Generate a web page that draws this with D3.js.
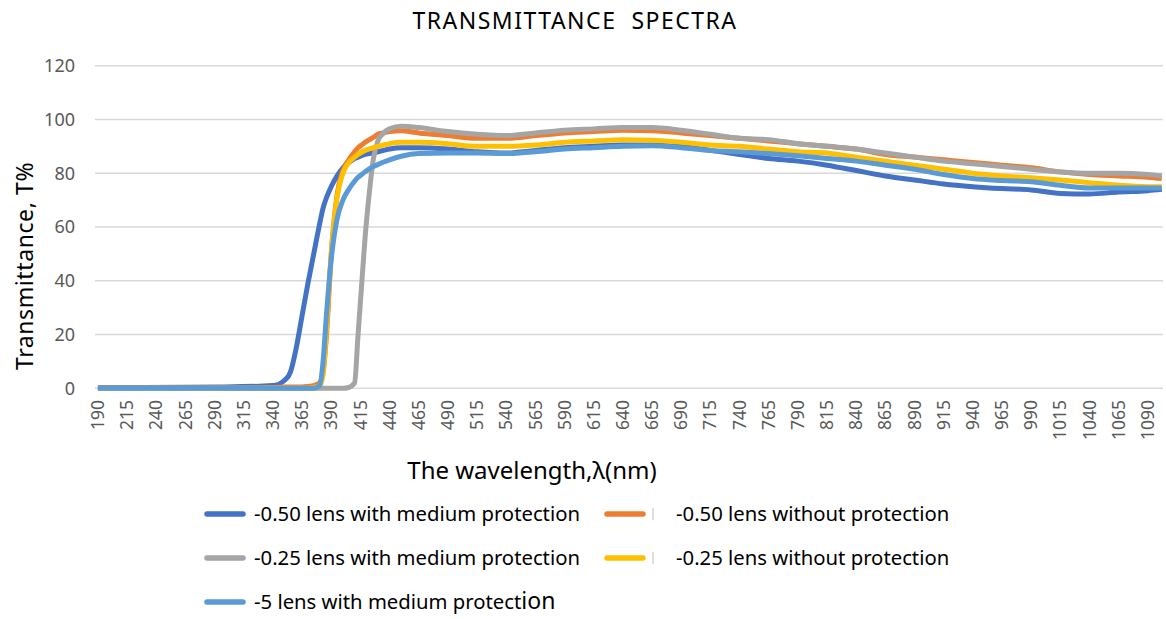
<!DOCTYPE html>
<html>
<head>
<meta charset="utf-8">
<script src="https://cdn.jsdelivr.net/npm/d3@7"></script>
<style>
  body { margin: 0; background: #fff; }
  text { font-family: "Noto Sans", "Open Sans", sans-serif; }
</style>
</head>
<body>
<div id="chart"></div>
<script>
// wavelengths (nm), shared by all series
var wavelengths = [190, 300, 340, 350, 355, 360, 365, 370, 375, 380,
                   383, 386, 390, 395, 400, 405, 410, 413, 416, 419,
                   422, 426, 430, 435, 440, 450, 465, 490, 515, 540,
                   565, 590, 615, 640, 665, 690, 715, 740, 765, 790,
                   815, 840, 865, 890, 915, 940, 965, 990, 1015, 1040,
                   1065, 1090, 1102];

var blueMed050 = [0.3, 0.5, 1, 3, 6, 15, 27, 39, 50, 61,
                  67, 71, 75, 79, 82, 84, 85.5, 86, 86.5, 87,
                  87.3, 87.6, 88, 88.5, 89, 89.5, 89.5, 89, 88, 87.5,
                  88.5, 89.5, 90, 90.5, 90.5, 90, 88.5, 87, 85.5, 84.5,
                  83, 81, 79, 77.5, 76, 75, 74.3, 73.8, 72.5, 72.3,
                  73, 73.5, 74];

var orangeNone050 = [0, 0, 0.3, 0.5, 0.5, 0.5, 0.5, 0.7, 1, 2,
                     6, 20, 50, 72, 81, 85, 88, 89.5, 90.5, 91.5,
                     92.3, 93.3, 94.5, 95, 95.5, 95.8, 95, 94, 93, 93,
                     94, 95, 95.5, 96, 95.8, 95, 94, 93, 92, 91,
                     90, 89, 87, 86, 85, 84, 83, 82, 80.5, 79.5,
                     79, 78.5, 78];

var grayMed025 = [0, 0, 0, 0, 0, 0, 0, 0, 0, 0,
                  0, 0, 0, 0, 0, 0.3, 2, 20, 38, 56,
                  70, 85, 92, 95, 96.5, 97.5, 97, 95.5, 94.5, 94,
                  95, 96, 96.5, 97, 97, 96, 94.5, 93, 92.5, 91,
                  90, 89, 87.5, 86, 84.5, 83.5, 82.5, 81.5, 80.5, 80,
                  80, 79.5, 79];

var yellowNone025 = [0, 0, 0, 0, 0, 0, 0, 0, 0.3, 1,
                     5, 23, 50, 71, 80, 84, 86, 87, 87.8, 88.5,
                     89, 89.5, 90, 90.5, 91, 91.5, 91.5, 91, 90, 90,
                     90.5, 91.5, 92, 92.5, 92.3, 91.5, 90.5, 90, 89, 88,
                     87.5, 86, 84.5, 83, 81.5, 80, 79, 78.3, 77.5, 76.5,
                     75.5, 75, 75];

var lightBlueMed5 = [0, 0, 0, 0, 0, 0, 0, 0, 0, 1,
                     10, 28, 48, 63, 70, 74, 77, 78.5, 79.5, 80.5,
                     81.5, 82.5, 83.2, 84.2, 85, 86.3, 87.3, 87.5, 87.5, 87.3,
                     88, 89, 89.5, 90, 90.2, 89.5, 88.5, 88, 87.3, 86.5,
                     85.5, 84.5, 83, 81.5, 79.5, 78, 77.3, 76.8, 75.5, 74.5,
                     74.5, 74.5, 74.5];

var seriesNames = ["-0.50 lens with medium protection", "-0.50 lens without protection",
                   "-0.25 lens with medium protection", "-0.25 lens without protection",
                   "-5 lens with medium protection"];
var seriesValues = [blueMed050, orangeNone050, grayMed025, yellowNone025, lightBlueMed5];
var colors = ["#4472C4", "#ED7D31", "#A5A5A5", "#FFC000", "#5B9BD5"];

var xTicks = d3.range(190, 1091, 25);
var yTicks = [0, 20, 40, 60, 80, 100, 120];

var width = 1166, height = 619;
var margin = {left: 95, right: 3, top: 66, bottom: 231};

var svg = d3.select("#chart").append("svg")
  .attr("width", width)
  .attr("height", height);

var x = d3.scaleLinear().domain([187.5, 1103]).range([margin.left, width - margin.right]);
var y = d3.scaleLinear().domain([0, 120]).range([height - margin.bottom + 0.3, margin.top - 0.3]);

// gridlines
svg.append("g")
  .selectAll("line")
  .data(yTicks)
  .join("line")
    .attr("x1", margin.left)
    .attr("x2", width - margin.right)
    .attr("y1", function(d) { return y(d); })
    .attr("y2", function(d) { return y(d); })
    .attr("stroke", "#d9d9d9")
    .attr("stroke-width", 1.5);

// y tick labels
svg.append("g")
  .selectAll("text")
  .data(yTicks)
  .join("text")
    .attr("x", 75)
    .attr("y", function(d) { return y(d); })
    .attr("dy", "0.35em")
    .attr("text-anchor", "end")
    .attr("fill", "#595959")
    .style("font-size", "18px")
    .text(function(d) { return d; });

// x tick labels, rotated
svg.append("g")
  .selectAll("text")
  .data(xTicks)
  .join("text")
    .attr("transform", function(d) { return "translate(" + x(d) + ",400) rotate(-90)"; })
    .attr("dy", "0.35em")
    .attr("text-anchor", "end")
    .attr("fill", "#595959")
    .style("font-size", "17.5px")
    .text(function(d) { return d; });

var line = d3.line()
  .x(function(d) { return x(d[0]); })
  .y(function(d) { return y(d[1]); })
  .curve(d3.curveMonotoneX);

seriesValues.forEach(function(vals, i) {
  svg.append("path")
    .datum(wavelengths.map(function(w, j) { return [w, vals[j]]; }))
    .attr("fill", "none")
    .attr("stroke", colors[i])
    .attr("stroke-width", 5)
    .attr("stroke-linejoin", "round")
    .attr("d", line);
});

// titles
svg.append("text")
  .attr("x", 575)
  .attr("y", 29)
  .attr("text-anchor", "middle")
  .attr("fill", "#000")
  .style("font-size", "23px")
  .style("letter-spacing", "1.5px")
  .style("white-space", "pre")
  .text("TRANSMITTANCE  SPECTRA");

svg.append("text")
  .attr("transform", "translate(33,266) rotate(-90)")
  .attr("text-anchor", "middle")
  .attr("fill", "#000")
  .style("font-size", "23px")
  .style("letter-spacing", "0.6px")
  .text("Transmittance, T%");

svg.append("text")
  .attr("x", 532)
  .attr("y", 479)
  .attr("text-anchor", "middle")
  .attr("fill", "#000")
  .style("font-size", "24px")
  .text("The wavelength,\u03bb(nm)");

// legend, two columns filled row by row
var legendPos = [[207, 514], [607, 514], [207, 558], [607, 558], [207, 602]];
var legend = svg.append("g");
seriesNames.forEach(function(name, i) {
  var p = legendPos[i];
  legend.append("line")
    .attr("x1", p[0]).attr("x2", p[0] + 36)
    .attr("y1", p[1]).attr("y2", p[1])
    .attr("stroke", colors[i])
    .attr("stroke-width", 5.5)
    .attr("stroke-linecap", "round");
  var tx = p[0] + 47;
  if (i % 2 == 1) {
    legend.append("line")
      .attr("x1", p[0] + 46).attr("x2", p[0] + 46)
      .attr("y1", p[1] - 6).attr("y2", p[1] + 6)
      .attr("stroke", "#bfbfbf")
      .attr("stroke-width", 1);
    tx = p[0] + 69;
  }
  var t = legend.append("text")
    .attr("x", tx)
    .attr("y", p[1])
    .attr("dy", "0.35em")
    .attr("fill", "#000")
    .style("font-size", "20.3px");
  if (i == 4) {
    t.append("tspan").text(name.slice(0, -3));
    t.append("tspan").style("font-size", "23px").text(name.slice(-3));
  } else {
    t.text(name);
  }
});
</script>
</body>
</html>
